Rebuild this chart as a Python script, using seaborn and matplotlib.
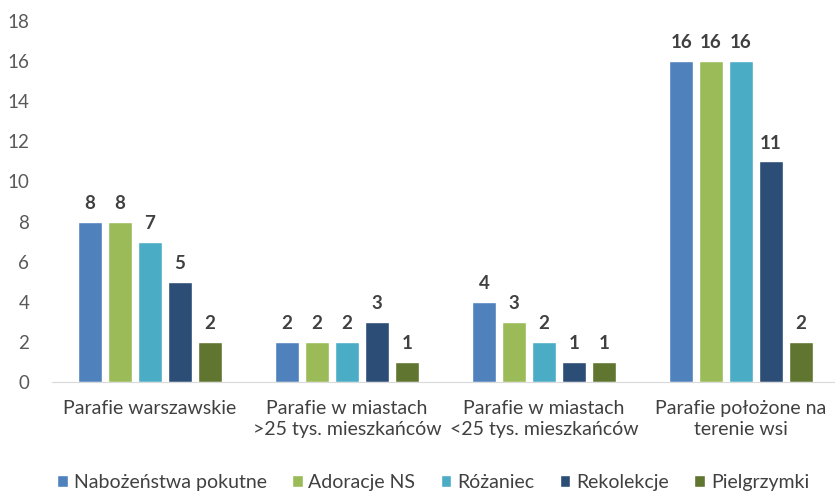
import pandas as pd
import seaborn as sns
import matplotlib.pyplot as plt

categories = [
    "Parafie warszawskie",
    "Parafie w miastach\n>25 tys. mieszkańców",
    "Parafie w miastach\n<25 tys. mieszkańców",
    "Parafie położone na\nterenie wsi",
]
series = ["Nabożeństwa pokutne", "Adoracje NS", "Różaniec", "Rekolekcje", "Pielgrzymki"]
nabozenstwa = [8, 2, 4, 16]
adoracje = [8, 2, 3, 16]
rozaniec = [7, 2, 2, 16]
rekolekcje = [5, 3, 1, 11]
pielgrzymki = [2, 1, 1, 2]

colors = ["#4F81BD", "#9BBB59", "#4BACC6", "#2C4D75", "#5F7530"]

rows = []
for name, vals in zip(series, [nabozenstwa, adoracje, rozaniec, rekolekcje, pielgrzymki]):
    for cat, v in zip(categories, vals):
        rows.append({"kategoria": cat, "seria": name, "liczba": v})
df = pd.DataFrame(rows)

sns.set_style("white")
plt.rcParams["font.family"] = ["Lato", "DejaVu Sans"]

fig = plt.figure(figsize=(8.35, 4.92), dpi=100)
ax = fig.add_axes([0.0617, 0.2236, 0.9383, 0.7337])
sns.barplot(data=df, x="kategoria", y="liczba", hue="seria", palette=colors,
            width=0.76, gap=0.2, ax=ax, saturation=1)

for c in ax.containers:
    ax.bar_label(c, padding=7, fontsize=13.5, fontweight="bold", color="#404040")

ax.set_ylim(0, 18)
ax.set_yticks(range(0, 19, 2))
ax.set_xlim(-0.5, 3.477)
ax.set_xlabel("")
ax.set_ylabel("")
ax.tick_params(axis="y", labelsize=13.5, colors="#595959", length=0, pad=16)
ax.tick_params(axis="x", labelsize=14, colors="#404040", length=0, pad=13)
for lbl in ax.get_xticklabels():
    lbl.set_linespacing(1.3)
for s in ["top", "right", "left"]:
    ax.spines[s].set_visible(False)
ax.spines["bottom"].set_color("#D9D9D9")

ax.legend(loc="center", bbox_to_anchor=(0.487, -0.278), ncol=5, frameon=False,
          fontsize=14, handlelength=0.55, handleheight=0.55, handletextpad=0.3,
          columnspacing=1.3, labelcolor="#404040", borderaxespad=0)

fig.savefig("out.png", dpi=100)
